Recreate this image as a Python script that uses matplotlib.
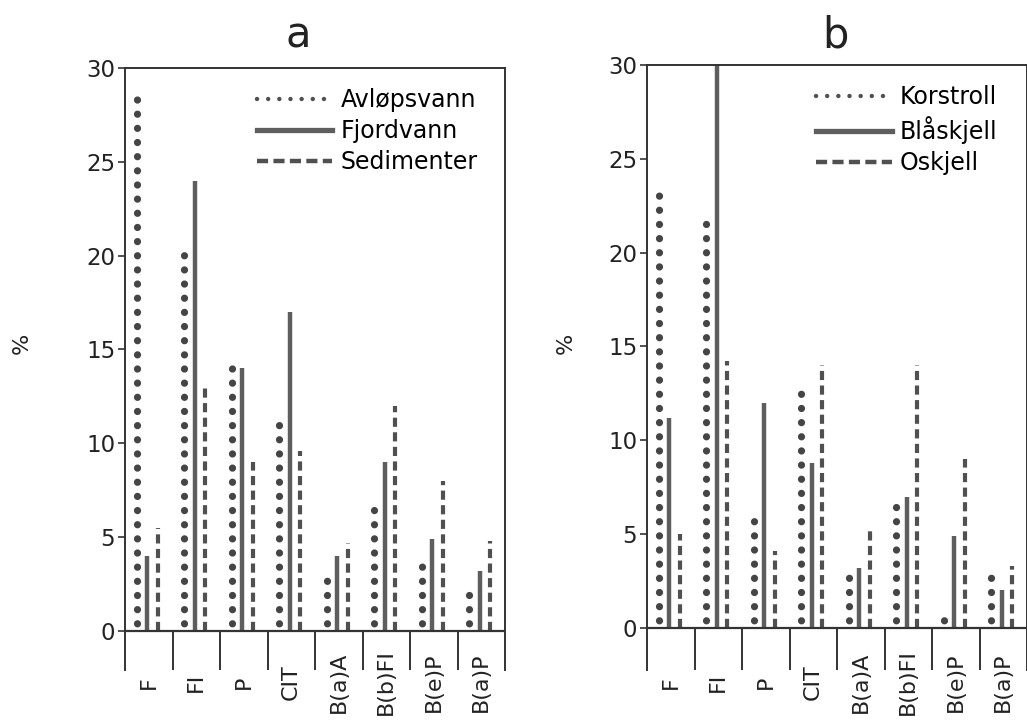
import numpy as np
import matplotlib
matplotlib.use('Agg')
import matplotlib.pyplot as plt
from matplotlib.lines import Line2D

plt.rcParams['font.family'] = ['DejaVu Sans']

compounds = ['F', 'FI', 'P', 'CIT', 'B(a)A', 'B(b)FI', 'B(e)P', 'B(a)P']

# panel a: sources
names_a = ['Avløpsvann', 'Fjordvann', 'Sedimenter']
avlopsvann = [28.5, 20.5, 14.0, 11.5, 3.0, 7.0, 4.0, 2.0]
fjordvann = [4.0, 24.0, 14.0, 17.0, 4.0, 9.0, 4.9, 3.2]
sedimenter = [5.5, 13.0, 9.0, 9.6, 4.7, 12.0, 8.0, 4.8]

# panel b: organisms
names_b = ['Korstroll', 'Blåskjell', 'Oskjell']
korstroll = [23.3, 22.0, 6.2, 12.7, 3.0, 6.7, 0.4, 3.2]
blaskjell = [11.2, 30.0, 12.0, 8.8, 3.2, 7.0, 4.9, 2.0]
oskjell = [5.0, 14.2, 4.1, 14.0, 5.3, 14.0, 9.0, 3.3]

yticks = [0, 5, 10, 15, 20, 25, 30]

INK = '#333333'
styles = [
    dict(color='#454545', lw=5.2, linestyle=(0.9, (0.01, 1.95)), dash_capstyle='round'),
    dict(color='#5e5e5e', lw=3.2, linestyle='-', solid_capstyle='butt'),
    dict(color='#505050', lw=3.0, linestyle=(0, (2.2, 1.3)), dash_capstyle='butt'),
]
leg_styles = [
    dict(color='#505050', lw=3.2, linestyle=(0, (0.01, 2.5)), dash_capstyle='round'),
    dict(color='#5e5e5e', lw=3.8, linestyle='-'),
    dict(color='#505050', lw=3.2, linestyle=(0, (2.5, 1.2))),
]
offsets = [-0.25, -0.03, 0.19]

fig = plt.figure(figsize=(10.27, 7.2), dpi=100)
ax_a = fig.add_axes([125/1027, 50/720, 380/1027, 602/720])
ax_b = fig.add_axes([647/1027, 50/720, 380/1027, 605/720])


def panel(ax, series, names, ybot, leg_x):
    n = len(compounds)
    x = np.arange(n) + 0.5
    for vals, off, st in zip(series, offsets, styles):
        for xi, v in zip(x, vals):
            ax.plot([xi + off, xi + off], [0, v], clip_on=False, **st)
    ax.axhline(0, color=INK, lw=1.6)
    ax.vlines(np.arange(1, n), ybot, 0, color=INK, lw=1.4)
    ax.set_xlim(0, n)
    ax.set_ylim(ybot, 30)
    for s in ['left', 'right', 'top']:
        ax.spines[s].set_color(INK)
        ax.spines[s].set_linewidth(1.4)
    ax.spines['bottom'].set_visible(False)
    ax.set_yticks(yticks)
    ax.set_yticklabels([str(t) for t in yticks], fontsize=16.5, color='#222222')
    ax.tick_params(axis='y', length=5, width=1.2, color=INK, pad=2)
    ax.set_xticks(x)
    ax.set_xticklabels(compounds, rotation=90, va='center', fontsize=16, color='#222222')
    ax.tick_params(axis='x', length=0, pad=9)
    handles = [Line2D([0], [1], **st) for st in leg_styles]
    ax.legend(handles, names, loc='upper right', bbox_to_anchor=(leg_x, 0.99),
              frameon=False, fontsize=17, handlelength=3.2, handletextpad=0.35,
              labelspacing=0.3, borderaxespad=0.2)


panel(ax_a, [avlopsvann, fjordvann, sedimenter], names_a, -2.08, 0.965)
panel(ax_b, [korstroll, blaskjell, oskjell], names_b, -2.24, 0.96)

fig.text(298/1027, 1 - 47/720, 'a', fontsize=30, ha='center', va='baseline', color='#222222')
fig.text(835/1027, 1 - 47/720, 'b', fontsize=30, ha='center', va='baseline', color='#222222')
fig.text(22/1027, 1 - 343/720, '%', fontsize=16, rotation=90, ha='center', va='center', color='#222222')
fig.text(566/1027, 1 - 343/720, '%', fontsize=16, rotation=90, ha='center', va='center', color='#222222')

fig.savefig('out.png', dpi=100)
